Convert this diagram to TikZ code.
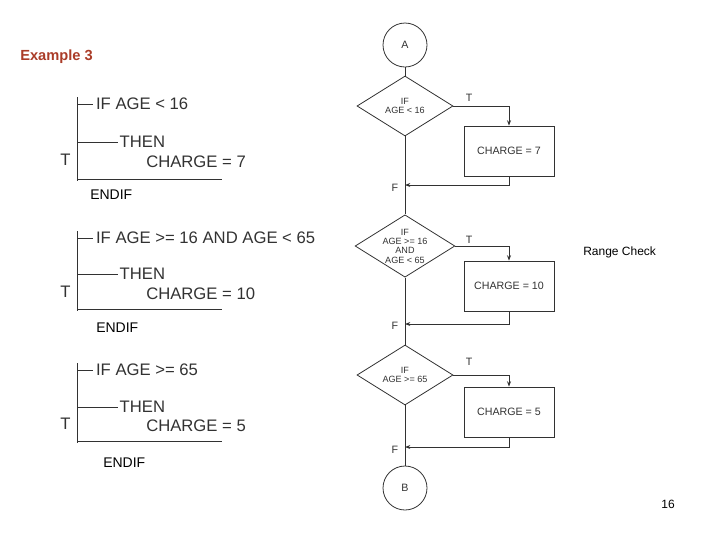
\documentclass[tikz,border=0pt]{standalone}
\usepackage{fontspec}
\setmainfont{Liberation Sans}
\usetikzlibrary{shapes.geometric,arrows.meta}
\definecolor{ink}{RGB}{50,50,50}
\definecolor{title}{RGB}{170,60,40}
\begin{document}
\begin{tikzpicture}[x=0.75pt,y=-0.75pt,
  ln/.style={draw=ink,line width=0.6pt},
  arr/.style={ln,-{Stealth[length=4pt,width=3pt]}},
  circ/.style={circle,draw=ink,line width=0.6pt,minimum size=33pt,font=\fontsize{8}{9}\selectfont,text=ink},
  dia/.style={diamond,draw=ink,line width=0.6pt,minimum width=72pt,minimum height=45pt,inner sep=0pt,aspect=1.6,font=\fontsize{6.8}{7}\selectfont,text=ink,align=center},
  box/.style={rectangle,draw=ink,line width=0.6pt,minimum width=67.5pt,minimum height=37.5pt,font=\fontsize{8}{9}\selectfont,text=ink},
  lab/.style={font=\fontsize{8}{9}\selectfont,text=ink,inner sep=0pt},
  code/.style={font=\fontsize{12.5}{14}\selectfont,text=ink,anchor=west,inner sep=0pt},
  endif/.style={font=\fontsize{10.5}{12}\selectfont,anchor=west,inner sep=0pt}]
\useasboundingbox (0,0) rectangle (720,540);
\node[anchor=west,font=\bfseries\fontsize{11}{12}\selectfont,text=title,inner sep=0pt] (ex) at (20,57) {Example 3};
% flowchart
\node[circ] (A) at (405,45) {A};
\node[dia] (d1) at (405,106) {IF\\AGE < 16};
\node[box] (b1) at (509,151) {CHARGE = 7};
\coordinate (j1) at (405,185);
\node[dia] (d2) at (405,246) {IF\\AGE >= 16\\AND\\AGE < 65};
\node[box] (b2) at (509,286) {CHARGE = 10};
\coordinate (j2) at (405,324);
\node[dia] (d3) at (405,375) {IF\\AGE >= 65};
\node[box] (b3) at (509,412) {CHARGE = 5};
\coordinate (j3) at (405,447);
\node[circ] (B) at (405,488) {B};
\draw[ln] (A) -- (d1);
\draw[arr] (d1.east) -| (b1.north);
\draw[arr] (b1.south) |- (j1);
\draw[ln] (d1.south) -- (d2.north);
\draw[arr] (d2.east) -| (b2.north);
\draw[arr] (b2.south) |- (j2);
\draw[ln] (d2.south) -- (d3.north);
\draw[arr] (d3.east) -| (b3.north);
\draw[arr] (b3.south) |- (j3);
\draw[ln] (d3.south) -- (B);
\node[lab] (t1) at (469,98) {T};
\node[lab] (f1) at (395,188) {F};
\node[lab] (t2) at (469,240) {T};
\node[lab] (f2) at (395,326) {F};
\node[lab] (t3) at (469,362) {T};
\node[lab] (f3) at (395,450) {F};
\node[anchor=west,font=\fontsize{9}{11}\selectfont,inner sep=0pt] (rc) at (583,252) {Range Check};
\node[font=\fontsize{9}{11}\selectfont,inner sep=0pt] (pg) at (668,504) {16};
% pseudo code blocks
\foreach \i/\top/\th/\ch/\bot/\cond/\val/\ex in {1/104/142/162/179/{IF AGE < 16}/7/90,2/238/274/294/309/{IF AGE >= 16 AND AGE < 65}/10/96,3/370/407/426/441/{IF AGE >= 65}/5/103}{
  \coordinate (tp\i) at (77,\top-7);
  \coordinate (bt\i) at (77,\bot+2);
  \draw[ln] (tp\i) -- (bt\i);
  \draw[ln] (77,\top) -- (93,\top) node[code,right=2pt] (if\i) {\cond};
  \draw[ln] (77,\th) -- (118,\th) node[code,right=1pt] (th\i) {THEN};
  \node[code] (ch\i) at (146,\ch) {CHARGE = \val};
  \draw[ln] (77,\bot) -- (222,\bot);
  \node[code] (T\i) at (60,\ch-2) {T};
  \node[endif] (en\i) at (\ex,\bot+13+\i*3) {ENDIF};
}
\end{tikzpicture}
\end{document}
